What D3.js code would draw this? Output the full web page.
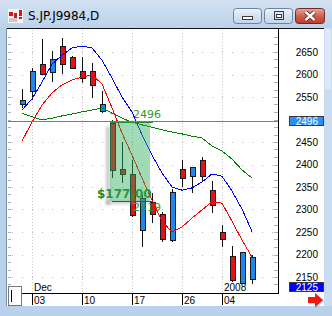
<!DOCTYPE html>
<html>
<head>
<meta charset="utf-8">
<script src="https://cdn.jsdelivr.net/npm/d3@7"></script>
<style>
body { margin: 0; background: #b9d1ea; }
svg { display: block; font-family: "Liberation Sans", Arial, sans-serif; }
</style>
</head>
<body>
<svg id="chart" width="332" height="316"></svg>
<script>
// daily bars, S.JP.J9984
var dates = ["11/30","12/03","12/04","12/05","12/06","12/07","12/10","12/11","12/12","12/13","12/14",
             "12/17","12/18","12/19","12/20","12/21","12/26","12/27","12/28","12/29","01/04","01/07","01/08","01/09"];
var opens  = [2534,2563,2623,2604,2663,2638,2608,2608,2519,2493,2389,2378,2254,2317,2290,2234,2389,2373,2410,2343,2249,2197,2136,2145];
var highs  = [2568,2614,2679,2653,2681,2641,2638,2626,2563,2499,2451,2410,2332,2336,2295,2345,2410,2395,2416,2364,2266,2219,2206,2199];
var lows   = [2526,2543,2598,2583,2601,2613,2582,2547,2514,2369,2358,2283,2217,2269,2228,2228,2349,2337,2364,2293,2216,2140,2135,2134];
var closes = [2543,2608,2600,2634,2623,2614,2593,2578,2534,2388,2377,2286,2325,2290,2234,2340,2369,2394,2374,2310,2234,2143,2205,2194];

// moving averages
var maFast = [2521,2546,2583,2623,2643,2659,2663,2659,2632,2592,2550,2517,2466,2421,2381,2350,2343,2348,2361,2379,2374,2341,2301,2251];
var maMid  = [2452,2494,2532,2559,2577,2588,2594,2599,2579,2526,2470,2421,2370,2321,2274,2250,2261,2281,2299,2317,2314,2274,2232,2194];
var maSlow = [2514,2506,2499,2503,2508,2512,2517,2521,2526,2514,2503,2494,2488,2483,2477,2472,2468,2463,2459,2441,2430,2412,2388,2370];

var priceTicks = [2650,2600,2550,2450,2400,2350,2300,2250,2200,2150];
var dateTicks = ["12/03","12/10","12/17","12/26","01/04"];
var dateTickLabels = ["03","10","17","26","04"];
var monthTicks = ["12/03","01/04"];
var monthLabels = ["Dec","2008"];

var refLevel = 2496, targetLevel = 2319, lastPrice = 2125;
var shadeFrom = "12/13", shadeTo = "12/19";

var svg = d3.select("#chart");
var plotLeft = 8, plotRight = 278, plotTop = 29, plotBottom = 293;

var x = d3.scalePoint().domain(dates).range([22, 252]);
var y = d3.scaleLinear().domain([2150, 2650]).range([277, 52]);

var defs = svg.append("defs");
var gBtn = defs.append("linearGradient").attr("id", "btn").attr("x1", 0).attr("y1", 0).attr("x2", 0).attr("y2", 1);
gBtn.append("stop").attr("offset", "0%").attr("stop-color", "#eef3fa");
gBtn.append("stop").attr("offset", "50%").attr("stop-color", "#d6e2f1");
gBtn.append("stop").attr("offset", "100%").attr("stop-color", "#c3d4ea");
var gClose = defs.append("linearGradient").attr("id", "btnClose").attr("x1", 0).attr("y1", 0).attr("x2", 0).attr("y2", 1);
gClose.append("stop").attr("offset", "0%").attr("stop-color", "#e9a99d");
gClose.append("stop").attr("offset", "50%").attr("stop-color", "#d0614f");
gClose.append("stop").attr("offset", "100%").attr("stop-color", "#c0392b");
var gTitle = defs.append("linearGradient").attr("id", "titleBg").attr("x1", 0).attr("y1", 0).attr("x2", 0).attr("y2", 1);
gTitle.append("stop").attr("offset", "0%").attr("stop-color", "#d3e1f2");
gTitle.append("stop").attr("offset", "100%").attr("stop-color", "#bcd2eb");
defs.append("clipPath").attr("id", "plotClip").append("rect")
    .attr("x", plotLeft).attr("y", plotTop).attr("width", plotRight - plotLeft).attr("height", plotBottom - plotTop);
defs.append("filter").attr("id", "blur").attr("x", "-50%").attr("y", "-50%").attr("width", "200%").attr("height", "200%")
    .append("feGaussianBlur").attr("stdDeviation", 1.5);

// window frame
svg.append("rect").attr("width", 332).attr("height", 316).attr("fill", "#b9d1ea");
svg.append("rect").attr("width", 332).attr("height", 28).attr("fill", "url(#titleBg)");

// title icon
var icon = svg.append("g");
icon.append("rect").attr("x", 8).attr("y", 9).attr("width", 15).attr("height", 14).attr("fill", "#f4f4f4");
icon.append("rect").attr("x", 9).attr("y", 12).attr("width", 4).attr("height", 4).attr("fill", "#d21818");
icon.append("rect").attr("x", 14).attr("y", 13).attr("width", 3).attr("height", 5).attr("fill", "#d21818");
icon.append("rect").attr("x", 19).attr("y", 10).attr("width", 3).attr("height", 6).attr("fill", "#d21818");
icon.append("rect").attr("x", 19).attr("y", 17).attr("width", 3).attr("height", 2).attr("fill", "#d21818");
icon.append("rect").attr("x", 9).attr("y", 18).attr("width", 8).attr("height", 4).attr("fill", "#c8c8c8");

svg.append("text").attr("x", 28).attr("y", 19.5)
    .style("font-family", "'DejaVu Sans', sans-serif").style("font-size", "12px").attr("fill", "#000")
    .text("S.JP.J9984,D");

// caption buttons
svg.append("rect").attr("x", 233.5).attr("y", 8.5).attr("width", 28).attr("height", 15).attr("rx", 3)
    .attr("fill", "url(#btn)").attr("stroke", "#6d829f");
svg.append("rect").attr("x", 242.5).attr("y", 16.5).attr("width", 10).attr("height", 3)
    .attr("fill", "#fff").attr("stroke", "#3a3a3a");
svg.append("rect").attr("x", 264.5).attr("y", 8.5).attr("width", 28).attr("height", 15).attr("rx", 3)
    .attr("fill", "url(#btn)").attr("stroke", "#6d829f");
svg.append("rect").attr("x", 274.5).attr("y", 11.5).attr("width", 9).attr("height", 8)
    .attr("fill", "none").attr("stroke", "#3a3a3a").attr("stroke-width", 1);
svg.append("rect").attr("x", 276.5).attr("y", 14.5).attr("width", 5).attr("height", 3)
    .attr("fill", "#fff").attr("stroke", "#3a3a3a");
svg.append("rect").attr("x", 295.5).attr("y", 8.5).attr("width", 29).attr("height", 15).attr("rx", 3)
    .attr("fill", "url(#btnClose)").attr("stroke", "#6b2c2c");
svg.append("path").attr("d", "M305.5,12 L314.5,20 M314.5,12 L305.5,20")
    .attr("stroke", "#5a1a1a").attr("stroke-width", 4);
svg.append("path").attr("d", "M305.5,12 L314.5,20 M314.5,12 L305.5,20")
    .attr("stroke", "#fff").attr("stroke-width", 2.4);

// client area
svg.append("rect").attr("x", 7).attr("y", 28).attr("width", 317).attr("height", 278).attr("fill", "#fff");
svg.append("line").attr("x1", 7).attr("x2", 325).attr("y1", 28.5).attr("y2", 28.5).attr("stroke", "#111");
svg.append("line").attr("x1", 6.5).attr("x2", 6.5).attr("y1", 28).attr("y2", 306).attr("stroke", "#7f8ea3");
svg.append("rect").attr("x", 324).attr("y", 28).attr("width", 8).attr("height", 278).attr("fill", "#c9dcf2");
svg.append("rect").attr("x", 325).attr("y", 29).attr("width", 6).attr("height", 60).attr("fill", "#dce8f6");

// grid
svg.selectAll(".hgrid").data(priceTicks).enter().append("line")
    .attr("x1", x(dates[0]) - 10).attr("x2", plotRight)
    .attr("y1", function(d) { return Math.round(y(d)) + 0.5; })
    .attr("y2", function(d) { return Math.round(y(d)) + 0.5; })
    .attr("stroke", "#b8b8b8").attr("stroke-dasharray", "1,9");
svg.selectAll(".vgrid").data(dateTicks).enter().append("line")
    .attr("x1", function(d) { return Math.round(x(d)) + 0.5; })
    .attr("x2", function(d) { return Math.round(x(d)) + 0.5; })
    .attr("y1", plotTop + 1).attr("y2", plotBottom)
    .attr("stroke", "#c8c8c8").attr("stroke-dasharray", "1,2");

// minor price ticks on both edges
var minor = d3.range(2100, 2720, 50 / 3).filter(function(p) { return y(p) > plotTop + 2 && y(p) < plotBottom - 2; });
svg.selectAll(".minL").data(minor).enter().append("line")
    .attr("x1", plotLeft).attr("x2", plotLeft + 3)
    .attr("y1", function(d) { return Math.round(y(d)) + 0.5; })
    .attr("y2", function(d) { return Math.round(y(d)) + 0.5; })
    .attr("stroke", "#b0b0b0");
svg.selectAll(".minR").data(minor).enter().append("line")
    .attr("x1", plotRight - 4).attr("x2", plotRight)
    .attr("y1", function(d) { return Math.round(y(d)) + 0.5; })
    .attr("y2", function(d) { return Math.round(y(d)) + 0.5; })
    .attr("stroke", "#b0b0b0");

var plot = svg.append("g").attr("clip-path", "url(#plotClip)");

// faint ellipse arc drawn around the drop
var ecx = x(dates[10]) + 3, ecy = y(2400), erx = 33, ery = 50;
var t1 = Math.asin((y(refLevel) - ecy) / ery), t2 = Math.asin((y(2285) - ecy) / ery);
plot.append("path")
    .attr("d", "M" + (ecx - erx * Math.cos(t1)) + "," + (ecy + ery * Math.sin(t1)) +
               " A" + erx + " " + ery + " 0 0 0 " + (ecx - erx * Math.cos(t2)) + "," + (ecy + ery * Math.sin(t2)))
    .attr("fill", "none").attr("stroke", "#dadada");

// candles
var bars = dates.map(function(d, i) {
    return { date: d, o: opens[i], h: highs[i], l: lows[i], c: closes[i] };
});
var candle = plot.selectAll(".candle").data(bars).enter().append("g").attr("class", "candle");
candle.append("line")
    .attr("x1", function(d) { return Math.round(x(d.date)) + 0.5; })
    .attr("x2", function(d) { return Math.round(x(d.date)) + 0.5; })
    .attr("y1", function(d) { return Math.round(y(d.h)); })
    .attr("y2", function(d) { return Math.round(y(d.l)); })
    .attr("stroke", "#111");
candle.append("rect")
    .attr("x", function(d) { return Math.round(x(d.date)) - 2 + 0.5; })
    .attr("y", function(d) { return Math.round(y(Math.max(d.o, d.c))) + 0.5; })
    .attr("width", 5)
    .attr("height", function(d) { return Math.max(1, Math.round(Math.abs(y(d.o) - y(d.c)))); })
    .attr("fill", function(d) { return d.c >= d.o ? "#1f86ec" : "#e2121b"; })
    .attr("stroke", "#1a1a1a");

// annotation texts
plot.append("text").attr("x", x(shadeFrom) - 15).attr("y", y(targetLevel) - 3)
    .style("font-family", "'DejaVu Sans', sans-serif").style("font-size", "12px").style("font-weight", "bold")
    .attr("fill", "#1f8a1f").text("$" + (refLevel - targetLevel).toFixed(2));
plot.append("text").attr("x", x(dates[11]) + 1).attr("y", y(targetLevel) + 10)
    .style("font-family", "'DejaVu Sans', sans-serif").style("font-size", "11px")
    .attr("fill", "#2e9a2e").text(targetLevel);
plot.append("text").attr("x", x(dates[11]) + 1).attr("y", y(refLevel) - 3)
    .style("font-family", "'DejaVu Sans', sans-serif").style("font-size", "11px")
    .attr("fill", "#2e9a2e").text(refLevel);

// moving averages
var line = d3.line().x(function(d, i) { return x(dates[i]); }).y(function(d) { return y(d); });
plot.append("path").datum(maSlow).attr("d", line).attr("fill", "none").attr("stroke", "#008000").style("shape-rendering", "crispEdges");
plot.append("path").datum(maMid).attr("d", line).attr("fill", "none").attr("stroke", "#ff0000").style("shape-rendering", "crispEdges");
plot.append("path").datum(maFast).attr("d", line).attr("fill", "none").attr("stroke", "#0000ff").style("shape-rendering", "crispEdges");

// reference level line
plot.append("line").attr("x1", plotLeft).attr("x2", plotRight)
    .attr("y1", Math.round(y(refLevel)) + 0.5).attr("y2", Math.round(y(refLevel)) + 0.5)
    .attr("stroke", "#2f8cf0");

// shaded measure box, with a soft shadow on the left and bottom edges
var sx0 = x(shadeFrom) - 2, sx1 = x(shadeTo) - 2;
var sy0 = y(refLevel) + 1, sy1 = y(targetLevel);
plot.append("rect").attr("x", sx0 - 4).attr("y", sy0 + 4).attr("width", 4).attr("height", sy1 - sy0)
    .attr("fill", "#888").attr("opacity", 0.45).attr("filter", "url(#blur)");
plot.append("rect").attr("x", sx0 - 4).attr("y", sy1).attr("width", sx1 - sx0).attr("height", 3)
    .attr("fill", "#888").attr("opacity", 0.45).attr("filter", "url(#blur)");
plot.append("rect").attr("x", sx0).attr("y", sy0)
    .attr("width", sx1 - sx0).attr("height", sy1 - sy0)
    .attr("fill", "#2eb05a").attr("fill-opacity", 0.45);
plot.append("line").attr("x1", sx0 + 2).attr("x2", sx1 + 2)
    .attr("y1", Math.round(sy1) + 0.5).attr("y2", Math.round(sy1) + 0.5)
    .attr("stroke", "#1d6b2a");
plot.append("line").attr("x1", sx0).attr("x2", sx1 + 3)
    .attr("y1", Math.round(y(refLevel)) + 1.5).attr("y2", Math.round(y(refLevel)) + 1.5)
    .attr("stroke", "#2a8a3a");

// plot borders
svg.append("line").attr("x1", plotRight + 0.5).attr("x2", plotRight + 0.5).attr("y1", plotTop).attr("y2", plotBottom)
    .attr("stroke", "#000");
svg.append("line").attr("x1", 21).attr("x2", plotRight + 1).attr("y1", plotBottom + 0.5).attr("y2", plotBottom + 0.5)
    .attr("stroke", "#000");

// price axis labels
svg.selectAll(".plab").data(priceTicks).enter().append("text")
    .attr("x", 318).attr("y", function(d) { return y(d) + 3.5; })
    .attr("text-anchor", "end").style("font-size", "10px").attr("fill", "#000")
    .text(function(d) { return d; });

function priceTag(p, fill, yy) {
    svg.append("rect").attr("x", 289.5).attr("y", Math.round(yy) - 4.5).attr("width", 34).attr("height", 9)
        .attr("fill", fill).attr("stroke", "#3a3a3a");
    svg.append("text").attr("x", 318).attr("y", yy + 3.5).attr("text-anchor", "end")
        .style("font-size", "10px").attr("fill", "#fff").text(p);
}
priceTag(refLevel, "#2a8ef5", y(refLevel));
priceTag(lastPrice, "#0000ff", y(lastPrice) - 1);

// date axis
svg.selectAll(".dtick").data(dateTicks).enter().append("line")
    .attr("x1", function(d) { return Math.round(x(d)) + 0.5; })
    .attr("x2", function(d) { return Math.round(x(d)) + 0.5; })
    .attr("y1", plotBottom).attr("y2", plotBottom + 12)
    .attr("stroke", "#000");
svg.selectAll(".dlab").data(dateTicks).enter().append("text")
    .attr("x", function(d) { return Math.round(x(d)) + 2; }).attr("y", 304)
    .style("font-size", "10px").attr("fill", "#000")
    .text(function(d, i) { return dateTickLabels[i]; });
svg.selectAll(".mlab").data(monthTicks).enter().append("text")
    .attr("x", function(d) { return Math.round(x(d)) + 2; }).attr("y", 291)
    .style("font-size", "10px").attr("fill", "#000")
    .text(function(d, i) { return monthLabels[i]; });

// small box bottom-left
svg.append("rect").attr("x", 8.5).attr("y", 286.5).attr("width", 13).attr("height", 19)
    .attr("fill", "#fff").attr("stroke", "#777");
svg.append("line").attr("x1", 11.5).attr("x2", 11.5).attr("y1", 290).attr("y2", 302).attr("stroke", "#000");

// red scroll arrow
svg.append("path").attr("d", "M309,298 L316,298 L316,294 L324,301 L316,308 L316,304 L309,304 Z")
    .attr("fill", "#999").attr("opacity", 0.5);
svg.append("path").attr("d", "M308,297 L315,297 L315,293 L323,300 L315,307 L315,303 L308,303 Z")
    .attr("fill", "#ee1a12");
</script>
</body>
</html>
